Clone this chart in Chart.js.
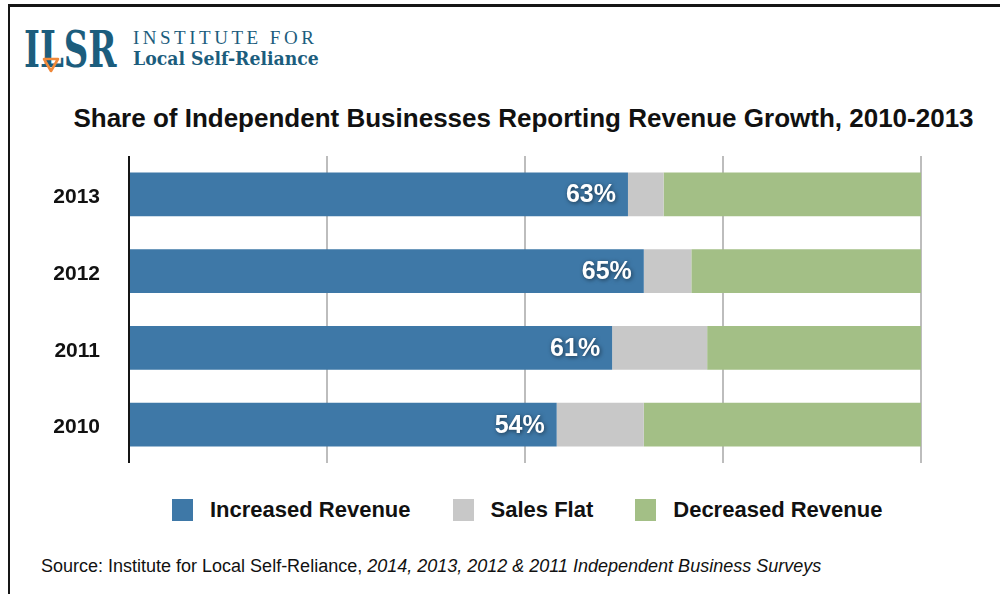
<!DOCTYPE html>
<html>
<head>
<meta charset="utf-8">
<title>Share of Independent Businesses Reporting Revenue Growth, 2010-2013</title>
<script src="https://cdn.jsdelivr.net/npm/chart.js@4.4.1/dist/chart.umd.min.js"></script>
<style>
  html, body { margin: 0; padding: 0; background: #fff; }
  body {
    width: 1000px; height: 594px; position: relative; overflow: hidden;
    font-family: "Liberation Sans", Arial, Helvetica, sans-serif; color: #111;
  }
  #frame {
    position: absolute; left: 8px; top: 4px; width: 1010px; height: 610px;
    border-top: 3px solid #161616; border-left: 2px solid #161616;
  }
  .logo { position: absolute; color: #1c5d7d; white-space: nowrap; transform-origin: 0 0; }
  #logoMark {
    left: 24px; top: 20px; font-family: "DejaVu Serif", serif; font-size: 50px; font-weight: bold;
    transform: scaleX(0.68);
  }
  #logoTop {
    left: 133px; top: 27px; font-family: "Liberation Serif", "Times New Roman", serif;
    font-size: 19px; letter-spacing: 3.5px;
  }
  #logoBottom {
    left: 133px; top: 47px; font-family: "DejaVu Serif", serif; font-size: 19px; font-weight: bold;
    transform: scaleX(0.91);
  }
  #tri { position: absolute; left: 42px; top: 57px; }
  #title {
    position: absolute; left: 0; top: 102px; width: 1047px; text-align: center;
    font-size: 26px; font-weight: bold; line-height: 32px;
  }
  #chartBox { position: absolute; left: 0; top: 140px; width: 1000px; height: 340px; }
  #legend {
    position: absolute; left: 172px; top: 498px; height: 24px; display: flex; align-items: center;
    font-size: 22px; font-weight: bold; white-space: nowrap;
  }
  .item { display: flex; align-items: center; margin-right: 42px; }
  .swatch { width: 21px; height: 22px; margin-right: 17px; }
  #source { position: absolute; left: 41px; top: 556px; font-size: 18px; white-space: nowrap; }
</style>
</head>
<body>
<div id="frame"></div>

<div id="logoMark" class="logo">ILSR</div>
<svg id="tri" width="18" height="16" viewBox="0 0 18 16">
  <polygon points="2,2 16,2 9,14" fill="none" stroke="#f0893b" stroke-width="2.6" stroke-linejoin="round"/>
</svg>
<div id="logoTop" class="logo">INSTITUTE FOR</div>
<div id="logoBottom" class="logo">Local Self-Reliance</div>

<div id="title">Share of Independent Businesses Reporting Revenue Growth, 2010-2013</div>

<div id="chartBox"><canvas id="chart" width="1000" height="340"></canvas></div>

<div id="legend"></div>

<div id="source">Source: Institute for Local Self-Reliance, <i>2014, 2013, 2012 &amp; 2011 Independent Business Surveys</i></div>

<script>
// Survey years, top to bottom
const years = ['2013', '2012', '2011', '2010'];

// Share of businesses (%) in each revenue group
const increased = [63, 65, 61, 54];
const flat = [4.5, 6, 12, 11];
const decreased = [32.5, 29, 27, 35];

// Series names and fills
const seriesNames = ['Increased Revenue', 'Sales Flat', 'Decreased Revenue'];
const seriesColors = ['#3e78a7', '#c8c8c8', '#a3bf86'];

// Horizontal axis ticks (percent)
const xTicks = [0, 25, 50, 75, 100];

const seriesValues = [increased, flat, decreased];

// White percentage labels at the right end of the blue bars
const valueLabels = {
  id: 'valueLabels',
  afterDatasetsDraw(chart) {
    const ctx = chart.ctx;
    const meta = chart.getDatasetMeta(0);
    ctx.save();
    ctx.font = 'bold 25px "Liberation Sans", Arial, Helvetica, sans-serif';
    ctx.fillStyle = '#ffffff';
    ctx.textAlign = 'right';
    ctx.textBaseline = 'middle';
    ctx.shadowColor = 'rgba(0, 0, 0, 0.55)';
    ctx.shadowBlur = 4;
    ctx.shadowOffsetX = 1;
    ctx.shadowOffsetY = 1;
    meta.data.forEach((bar, i) => {
      ctx.fillText(increased[i] + '%', bar.x - 12, bar.y + 1);
    });
    ctx.restore();
  }
};

new Chart(document.getElementById('chart'), {
  type: 'bar',
  data: {
    labels: years,
    datasets: seriesNames.map((name, i) => ({
      label: name,
      data: seriesValues[i],
      backgroundColor: seriesColors[i],
      borderWidth: 0,
      categoryPercentage: 1,
      barPercentage: 0.57
    }))
  },
  options: {
    indexAxis: 'y',
    responsive: false,
    animation: false,
    layout: { padding: { left: 0, right: 79, top: 16, bottom: 17 } },
    plugins: {
      legend: { display: false },
      title: { display: false },
      tooltip: { enabled: false }
    },
    scales: {
      x: {
        stacked: true,
        min: 0,
        max: 100,
        afterBuildTicks(scale) { scale.ticks = xTicks.map(v => ({ value: v })); },
        afterFit(scale) { scale.height = 0; },
        ticks: { display: false },
        border: { display: false },
        grid: {
          drawTicks: false,
          lineWidth: 2,
          color: ctx => (ctx.tick && ctx.tick.value === 0 ? '#151515' : '#bdbdbd')
        }
      },
      y: {
        stacked: true,
        afterFit(scale) {
          scale.width = 129;
          scale.paddingTop = 0;
          scale.paddingBottom = 0;
        },
        border: { display: false },
        grid: { display: false, drawTicks: false },
        ticks: {
          padding: 29,
          labelOffset: 3,
          color: '#111',
          font: { family: '"Liberation Sans", Arial, Helvetica, sans-serif', size: 21, weight: 'bold' }
        }
      }
    }
  },
  plugins: [valueLabels]
});

// Legend built from the series names and fills
const legend = document.getElementById('legend');
seriesNames.forEach((name, i) => {
  const item = document.createElement('div');
  item.className = 'item';
  const sw = document.createElement('div');
  sw.className = 'swatch';
  sw.style.background = seriesColors[i];
  const txt = document.createElement('span');
  txt.textContent = name;
  item.appendChild(sw);
  item.appendChild(txt);
  legend.appendChild(item);
});
</script>
</body>
</html>
